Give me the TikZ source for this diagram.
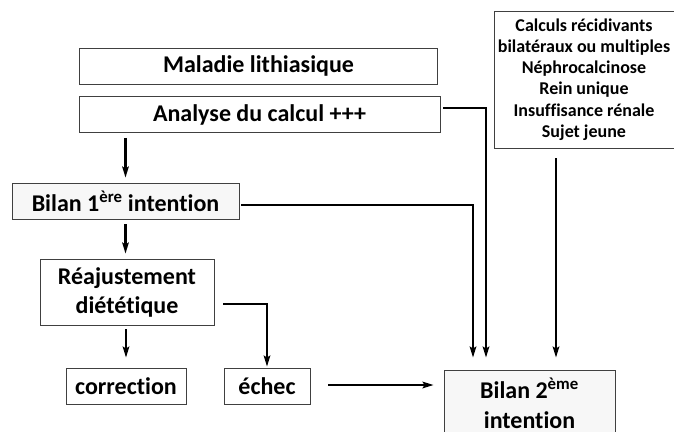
\documentclass[tikz,border=0pt]{standalone}
\usepackage{fontspec}
\setmainfont{Carlito}[Ligatures=NoCommon]
\usetikzlibrary{arrows.meta}
\begin{document}
\begin{tikzpicture}[x=1pt,y=-1pt,
  box/.style={draw=black!75,line width=0.8pt,fill=white,inner sep=0pt,align=center,font=\fontsize{24}{29}\selectfont\bfseries},
  gbox/.style={box,fill=black!3},
  arr/.style={line width=2.2pt,-{Stealth[length=11pt,width=6.5pt,inset=2pt]}}]
\useasboundingbox (0,0) rectangle (674,431);
\node[box,minimum width=358pt,minimum height=36pt] (mal) at (258.5,66) {Maladie lithiasique};
\node[box,minimum width=361pt,minimum height=36pt] (ana) at (259.5,114.5) {Analyse du calcul +++};
\node[box,minimum width=180pt,minimum height=137pt,font=\fontsize{18}{21.3}\selectfont\bfseries] (crit) at (584,79.5) {Calculs récidivants\\bilatéraux ou multiples\\Néphrocalcinose\\Rein unique\\Insuffisance rénale\\Sujet jeune};
\node[gbox,minimum width=227pt,minimum height=36pt] (b1) at (125.5,201) {Bilan 1\textsuperscript{ère} intention};
\node[box,minimum width=174pt,minimum height=66pt] (rea) at (127,292) {Réajustement\\diététique};
\node[box,minimum width=120pt,minimum height=36pt] (cor) at (126,386) {correction};
\node[box,minimum width=86pt,minimum height=36pt] (ech) at (267,386) {échec};
\node[gbox,minimum width=171pt,minimum height=66pt,font=\fontsize{24}{30}\selectfont\bfseries] (b2) at (529.5,403) {Bilan 2\textsuperscript{ème}\\intention};
% connectors
\draw[arr,shorten <=5pt,shorten >=5pt] (ana.south -| b1.north) -- (b1.north);
\draw[arr,shorten <=5pt,shorten >=5pt] (b1.south) -- (b1.south |- rea.north);
\draw[arr,shorten <=4pt,shorten >=10pt] (rea.south -| cor.north) -- (cor.north);
\draw[arr,shorten >=1pt] ([shift={(9,12)}]rea.east) -| (ech.north);
\draw[arr,shorten <=18pt,shorten >=10pt] ([yshift=1pt]ech.east) -- ([yshift=1pt]ech.east -| b2.west);
\draw[arr,shorten >=12pt] ([shift={(2,4)}]b1.east) -| ([xshift=-56.5pt]b2.north);
\draw[arr,shorten >=12pt] ([shift={(3,-6.5)}]ana.east) -| ([xshift=-43.5pt]b2.north);
\draw[arr,shorten <=10pt,shorten >=12pt] ([xshift=-28pt]crit.south) -- ([xshift=26.5pt]b2.north);
\end{tikzpicture}
\end{document}
